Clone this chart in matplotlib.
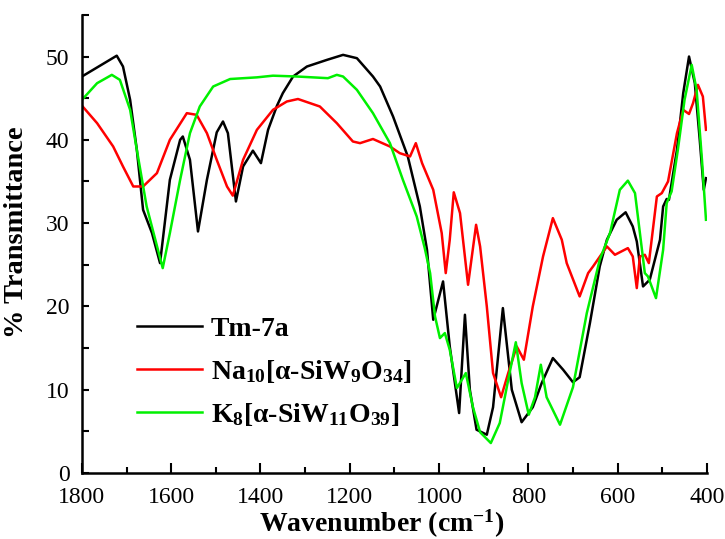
import numpy as np
import matplotlib
matplotlib.use("Agg")
import matplotlib.pyplot as plt
from matplotlib.ticker import MultipleLocator

plt.rcParams['font.family'] = ['Liberation Serif', 'DejaVu Serif']
plt.rcParams['mathtext.default'] = 'regular'

# Tm-7a (black)
wn_tm = [1800, 1722, 1708, 1692, 1677, 1663, 1643, 1625, 1603, 1580, 1574, 1558, 1540,
         1520, 1498, 1484, 1473, 1455, 1439, 1417, 1399, 1383, 1363, 1350, 1327, 1296,
         1251, 1215, 1184, 1148, 1132, 1103, 1070, 1043, 1027, 1013, 991, 976, 955, 942,
         931, 916, 893, 879, 857, 837, 815, 790, 770, 745, 722, 700, 685, 662, 640, 624,
         602, 582, 566, 557, 543, 528, 505, 498, 490, 485, 467, 453, 440, 427, 416, 407, 402]
t_tm = [47.6, 50.1, 48.8, 44.8, 38.8, 31.6, 28.8, 25.2, 35.2, 40.0, 40.4, 37.6, 29.0,
        35.2, 40.9, 42.2, 40.8, 32.6, 36.8, 38.7, 37.2, 41.2, 44.1, 45.6, 47.6, 48.8,
        49.6, 50.2, 49.8, 47.6, 46.4, 42.8, 38.0, 32.0, 26.8, 18.4, 23.0, 15.2, 7.2, 19.0,
        10.0, 5.2, 4.6, 7.9, 19.8, 10.0, 6.1, 7.9, 10.8, 13.8, 12.4, 10.9, 11.5, 18.0, 24.8, 28.0,
        30.4, 31.3, 29.6, 27.8, 22.4, 23.2, 28.0, 32.0, 32.9, 32.8, 38.8, 45.6, 50.0, 46.8, 40.0, 34.0, 35.4]

# Na10[a-SiW9O34] (red)
wn_na = [1800, 1766, 1730, 1708, 1685, 1663, 1632, 1603, 1565, 1543, 1520, 1498, 1475,
         1462, 1439, 1408, 1372, 1341, 1316, 1267, 1229, 1193, 1177, 1148, 1110, 1088,
         1065, 1052, 1038, 1013, 994, 985, 976, 967, 953, 935, 917, 908, 893, 879, 861,
         845, 826, 810, 790, 767, 745, 725, 714, 685, 666, 655, 624, 606, 577, 566, 557,
         550, 539, 530, 512, 501, 487, 467, 453, 440, 431, 420, 409, 402]
t_na = [44.1, 42.0, 39.2, 36.8, 34.4, 34.4, 36.0, 40.0, 43.2, 43.0, 40.8, 37.6, 34.4,
        33.3, 37.6, 41.2, 43.6, 44.6, 44.9, 44.0, 42.0, 39.8, 39.6, 40.1, 39.2, 38.4,
        38.0, 39.6, 37.2, 34.0, 28.8, 24.0, 28.0, 33.7, 31.2, 22.6, 29.8, 27.2, 20.0, 12.0, 9.1,
        12.0, 15.2, 13.6, 20.0, 26.0, 30.6, 28.0, 25.2, 21.2, 24.0, 24.8, 27.2, 26.2, 27.0, 26.0, 22.2,
        26.0, 26.2, 25.2, 33.2, 33.6, 35.0, 40.8, 43.6, 43.1, 44.4, 46.6, 45.2, 41.2]

# K8[a-SiW11O39] (green)
wn_k = [1800, 1766, 1733, 1715, 1692, 1677, 1655, 1619, 1603, 1580, 1558, 1536, 1506,
        1468, 1408, 1372, 1318, 1249, 1229, 1215, 1184, 1148, 1110, 1081, 1050, 1032,
        1020, 1009, 998, 987, 976, 960, 940, 924, 908, 884, 864, 845, 828, 815, 799,
        785, 772, 759, 729, 700, 669, 640, 617, 595, 577, 561, 550, 539, 532, 514, 498,
        490, 479, 465, 450, 434, 423, 411, 402]
t_k = [44.8, 46.8, 47.8, 47.2, 43.6, 38.8, 32.0, 24.6, 28.8, 35.2, 40.8, 44.0, 46.4,
       47.3, 47.5, 47.7, 47.6, 47.4, 47.8, 47.6, 46.0, 43.2, 39.6, 35.2, 30.8, 27.0,
       24.0, 18.8, 16.2, 16.8, 14.8, 10.2, 12.0, 7.9, 4.9, 3.6, 6.0, 11.2, 15.7, 10.8, 7.0,
       9.1, 13.0, 9.1, 5.8, 10.3, 19.2, 25.6, 28.8, 34.0, 35.1, 33.6, 28.8, 24.0, 23.6, 21.0, 26.8,
       32.4, 33.8, 38.8, 44.8, 49.0, 46.0, 37.6, 30.4]

labels = ['Tm-7a', r'Na$_{10}$[α-SiW$_9$O$_{34}$]', r'K$_8$[α-SiW$_{11}$O$_{39}$]']

fig = plt.figure(figsize=(7.25, 5.39), dpi=100)
ax = fig.add_axes([0.113, 0.1224, 0.862, 0.85])

ax.plot(wn_tm, t_tm, color='black', lw=1.8, label=labels[0])
ax.plot(wn_na, t_na, color='#ff0000', lw=1.8, label=labels[1])
ax.plot(wn_k, t_k, color='#00f000', lw=1.8, label=labels[2])

ax.set_xlim(1800, 400)
ax.set_ylim(0, 55)
ax.xaxis.set_major_locator(MultipleLocator(200))
ax.xaxis.set_minor_locator(MultipleLocator(100))
ax.yaxis.set_major_locator(MultipleLocator(10))
ax.yaxis.set_minor_locator(MultipleLocator(5))
ax.tick_params(which='both', direction='in', width=1.5, labelsize=17)
ax.tick_params(axis='x', which='major', length=7, pad=10)
ax.tick_params(axis='x', which='minor', length=4)
ax.tick_params(axis='y', which='both', length=5, pad=9)
ax.spines['top'].set_visible(False)
ax.spines['right'].set_visible(False)
ax.spines['left'].set_linewidth(1.8)
ax.spines['bottom'].set_linewidth(1.8)

ax.set_xlabel('Wavenumber (cm$^{-1}$)', fontsize=20, fontweight='bold')
ax.set_ylabel('% Transmittance', fontsize=20.5, fontweight='bold')
ax.xaxis.set_label_coords(0.48, -0.075)
ax.yaxis.set_label_coords(-0.085, 0.525)

leg = ax.legend(loc='upper left', bbox_to_anchor=(0.088, 0.342), frameon=False,
                prop={'size': 20, 'weight': 'bold'}, handlelength=2.35,
                labelspacing=0.58, handletextpad=0.3, borderpad=0, borderaxespad=0)

fig.savefig('out.png', dpi=100)
